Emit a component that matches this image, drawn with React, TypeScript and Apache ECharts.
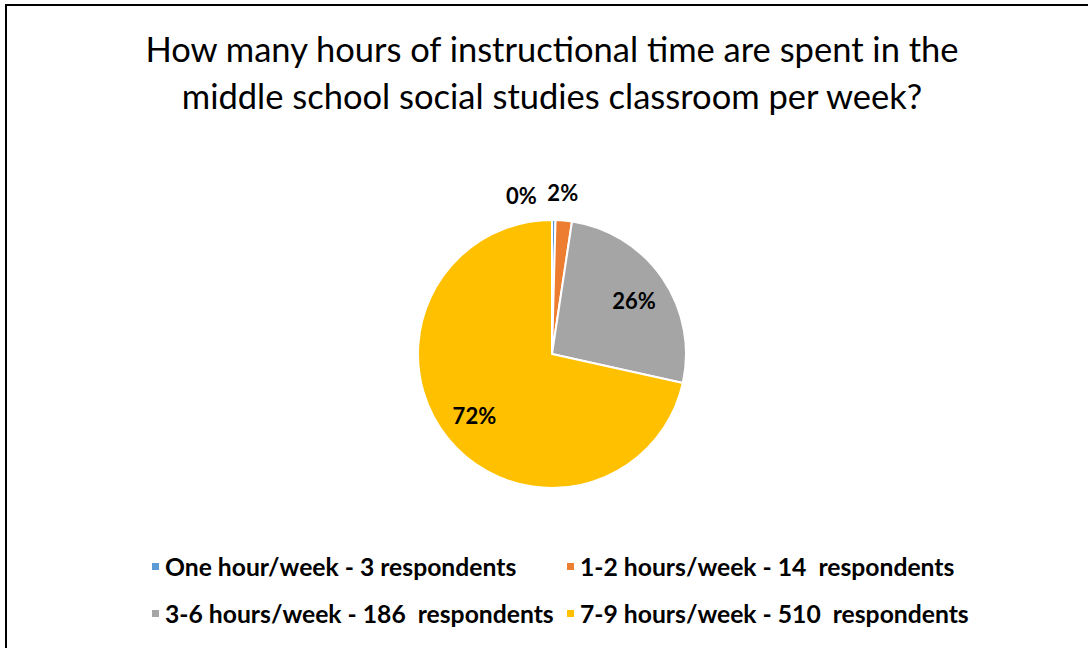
import React, { useEffect, useRef } from "react";
import * as echarts from "echarts";

const titleLines = [
  "How many hours of instructional time are spent in the",
  "middle school social studies classroom per week?",
];
const categories = [
  "One hour/week - 3 respondents",
  "1-2 hours/week - 14  respondents",
  "3-6 hours/week - 186  respondents",
  "7-9 hours/week - 510  respondents",
];
const respondents = [3, 14, 186, 510];
const colors = ["#5B9BD5", "#ED7D31", "#A5A5A5", "#FFC000"];
// label nudges for the tiny slices (style only)
const labelOffsets: number[][] = [[-32, -59], [2, -62], [0, 3], [0, -1]];

export default function App() {
  const ref = useRef<HTMLDivElement>(null);
  useEffect(() => {
    if (!ref.current) return;
    const chart = echarts.init(ref.current, undefined, { renderer: "svg" });
    const total = respondents.reduce((a, b) => a + b, 0);
    const font = "Lato, 'Open Sans', sans-serif";
    const mainData = categories.map((name, i) => ({
      name,
      value: respondents[i],
      itemStyle: { color: colors[i] },
    }));
    const labelData = categories.map((name, i) => ({
      name,
      value: respondents[i],
      label: { offset: labelOffsets[i] },
    }));
    const legendText = {
      fontFamily: font,
      fontWeight: "bold",
      fontSize: 24.7,
      lineHeight: 24,
      color: "#000000",
    };
    chart.setOption({
      animation: false,
      backgroundColor: "#ffffff",
      title: {
        text: titleLines.join("\n"),
        left: 547,
        top: 20,
        textAlign: "center",
        textStyle: {
          fontFamily: font,
          fontWeight: "normal",
          fontSize: 34.5,
          lineHeight: 47,
          color: "#000000",
        },
      },
      legend: [
        {
          orient: "vertical",
          left: 150,
          top: 554,
          padding: 0,
          itemGap: 22,
          itemWidth: 9,
          itemHeight: 9,
          icon: "rect",
          selectedMode: false,
          data: [categories[0], categories[2]],
          textStyle: legendText,
        },
        {
          orient: "vertical",
          left: 565,
          top: 554,
          padding: 0,
          itemGap: 22,
          itemWidth: 9,
          itemHeight: 9,
          icon: "rect",
          selectedMode: false,
          data: [categories[1], categories[3]],
          textStyle: legendText,
        },
      ],
      graphic: [
        {
          type: "rect",
          shape: { x: 6, y: 5, width: 1300, height: 900 },
          style: { fill: "none", stroke: "#000000", lineWidth: 2 },
          silent: true,
        },
      ],
      series: [
        {
          type: "pie",
          center: [552, 354],
          radius: [0, 134],
          startAngle: 90,
          clockwise: true,
          avoidLabelOverlap: false,
          label: { show: false },
          labelLine: { show: false },
          itemStyle: { borderColor: "#ffffff", borderWidth: 2 },
          emphasis: { disabled: true },
          data: mainData,
        },
        {
          type: "pie",
          center: [552, 354],
          radius: [59, 134],
          startAngle: 90,
          clockwise: true,
          silent: true,
          avoidLabelOverlap: false,
          itemStyle: { color: "rgba(0,0,0,0)", borderWidth: 0 },
          labelLine: { show: false },
          label: {
            show: true,
            position: "inside",
            fontFamily: font,
            fontWeight: "bold",
            fontSize: 22,
            color: "#000000",
            formatter: (p: any) => Math.round((p.value / total) * 100) + "%",
          },
          emphasis: { disabled: true },
          data: labelData,
        },
      ],
    });
    return () => chart.dispose();
  }, []);
  return (
    <div
      ref={ref}
      style={{ position: "fixed", left: 0, top: 0, width: 1088, height: 648, background: "#fff" }}
    />
  );
}
